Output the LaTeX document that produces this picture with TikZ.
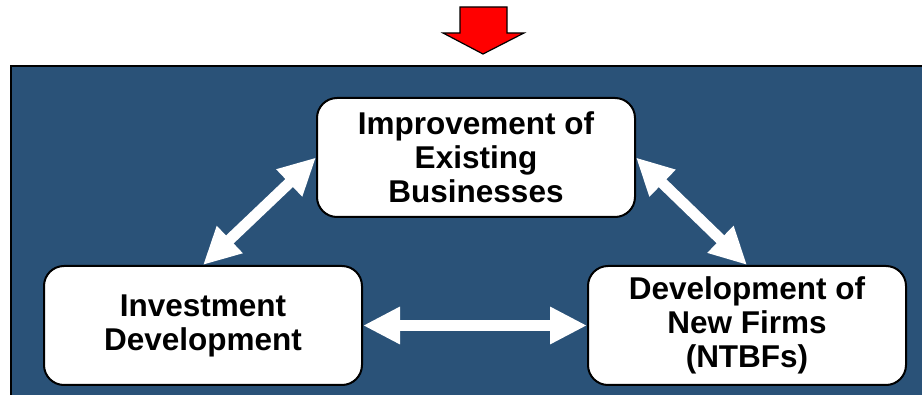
\documentclass[tikz,border=0pt]{standalone}
\usepackage{fontspec}
\setmainfont{Liberation Sans}
\usetikzlibrary{arrows.meta}
\definecolor{panelblue}{RGB}{42,82,120}
\definecolor{arrowred}{RGB}{255,0,0}
\tikzset{
  boxnode/.style={draw=black, line width=2pt, fill=white, rounded corners=20pt,
    minimum width=318pt, minimum height=119pt, align=center, inner sep=0pt,
    font=\fontsize{31.5}{34}\selectfont\bfseries},
  dblarrow/.style={draw=white, line width=11pt,
    {Triangle[length=37pt,width=35pt]}-{Triangle[length=37pt,width=35pt]}}
}
\begin{document}
\begin{tikzpicture}[x=1pt,y=-1pt]
\useasboundingbox (0,0) rectangle (922,395);
\begin{scope}
\clip (0,0) rectangle (922,395);
\draw[line width=2.5pt, draw=black, fill=panelblue] (11,66) rectangle (940,420);
\end{scope}
% red arrow
\draw[fill=arrowred, draw=black, line width=1.2pt, line join=miter]
  (460,7) -- (507,7) -- (507,33) -- (524,33) -- (483,54) -- (443,33) -- (460,33) -- cycle;
\node[boxnode] (top) at (476,157.5) {Improvement of\\Existing\\Businesses};
\node[boxnode] (left) at (203,325.5) {Investment\\Development};
\node[boxnode] (right) at (747,325.5) {Development of\\New Firms\\(NTBFs)};
\draw[dblarrow] (left.north) -- (top.west);
\draw[dblarrow] (top.east) -- (right.north);
\draw[dblarrow] (left.east) -- (right.west);
\end{tikzpicture}
\end{document}
